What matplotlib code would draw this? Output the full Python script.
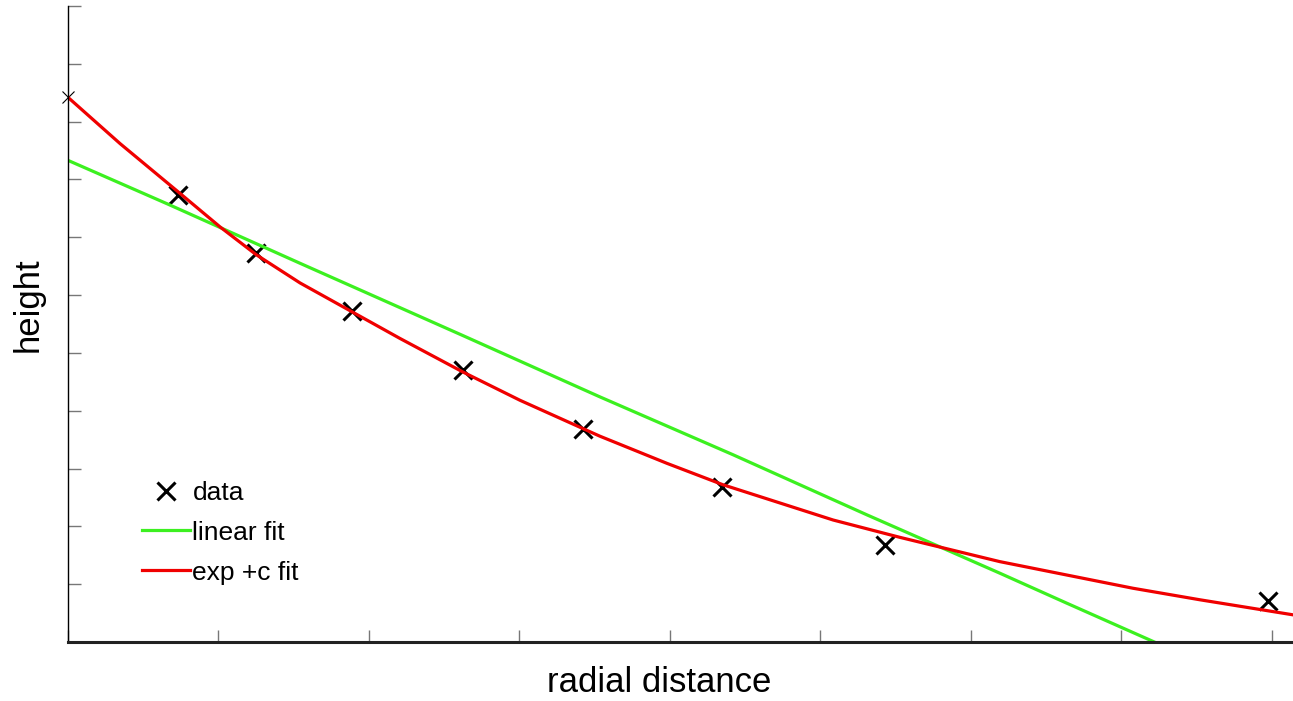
import numpy as np
import matplotlib
matplotlib.use("Agg")
import matplotlib.pyplot as plt

# data
data_x = [0.0, 3.65, 6.25, 9.44, 13.12, 17.11, 21.73, 27.14, 39.87]
data_y = [9.42, 7.73, 6.72, 5.72, 4.70, 3.68, 2.68, 1.68, 0.71]

lin_x = [0.0, 3.29, 7.71, 13.12, 17.67, 22.09, 26.54, 30.96, 33.19, 36.18]
lin_y = [8.33, 7.58, 6.55, 5.30, 4.24, 3.24, 2.20, 1.19, 0.67, -0.02]

exp_x = [0.0, 1.73, 3.65, 5.05, 6.25, 7.71, 9.44, 11.03, 13.12, 15.02, 17.67,
         19.9, 21.76, 25.42, 27.64, 30.96, 35.38, 37.61, 40.7]
exp_y = [9.42, 8.62, 7.79, 7.18, 6.70, 6.21, 5.71, 5.25, 4.67, 4.18, 3.56,
         3.09, 2.72, 2.11, 1.81, 1.39, 0.93, 0.73, 0.47]

x_ticks = [0, 5, 10, 15, 20, 25, 30, 35, 40]
y_ticks = list(range(0, 12))

fig = plt.figure(figsize=(12.93, 7.01), dpi=100)
ax = fig.add_axes([68 / 1293, 59 / 701, 1 - 68 / 1293, 636 / 701])

ax.plot(data_x[0], data_y[0], linestyle='None', marker='x', color='black',
        markersize=9, markeredgewidth=0.8, clip_on=False)
ax.plot(data_x[1:], data_y[1:], linestyle='None', marker='x', color='black',
        markersize=13, markeredgewidth=2.2, label='data')
ax.plot(lin_x, lin_y, color='#3cf020', lw=2.3, label='linear fit')
ax.plot(exp_x, exp_y, color='#f00000', lw=2.3, label='exp +c fit')

ax.set_xlim(0, 40.7)
ax.set_ylim(0, 11)
ax.set_xticks(x_ticks)
ax.set_yticks(y_ticks)
ax.tick_params(direction='in', length=9, width=1, color='#777777',
               labelbottom=False, labelleft=False)
for s in ['top', 'right']:
    ax.spines[s].set_visible(False)
ax.spines['bottom'].set_linewidth(2.2)
ax.spines['bottom'].set_color('#222222')
ax.spines['left'].set_linewidth(1.0)

lab_font = ['Liberation Sans', 'DejaVu Sans']
ax.set_xlabel('radial distance', fontsize=25, family=lab_font)
ax.set_ylabel('height', fontsize=25, family=lab_font)
ax.xaxis.set_label_coords((659 - 68) / 1225, -0.038)
ax.yaxis.set_label_coords(-0.019, (642 - 305) / 636)

leg = ax.legend(loc='upper left', bbox_to_anchor=(0.052, 0.27), frameon=False,
                prop={'family': ['Liberation Sans', 'DejaVu Sans'], 'size': 19},
                handlelength=1.8, handletextpad=0.1, labelspacing=0.6,
                borderaxespad=0)

fig.savefig('out.png', dpi=100)
